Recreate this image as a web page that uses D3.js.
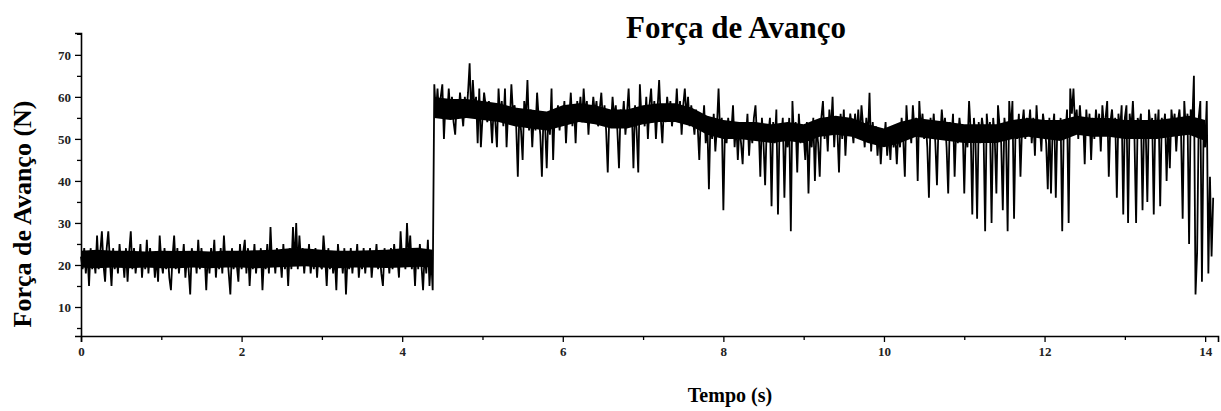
<!DOCTYPE html>
<html>
<head>
<meta charset="utf-8">
<script src="https://cdn.jsdelivr.net/npm/d3@7/dist/d3.min.js"></script>
<style>
  html, body { margin: 0; padding: 0; background: #fff; }
  svg { display: block; }
  text { font-family: "Liberation Serif", "Times New Roman", serif; }
</style>
</head>
<body>
<script>
// ---- Data ----
const titulo = "Força de Avanço";
const rotuloX = "Tempo (s)";
const rotuloY = "Força de Avanço (N)";
const tempoInicial = 0;      // s
const passo = 0.02;          // s between samples
const xTicksMaiores = [0, 2, 4, 6, 8, 10, 12, 14];
const xTicksMenores = [1, 3, 5, 7, 9, 11, 13];
const yTicksMaiores = [10, 20, 30, 40, 50, 60, 70];
const yTicksMenores = [5, 15, 25, 35, 45, 55, 65, 75];

// Força de avanço (N), one value every 0.02 s
const forca = [
  // 0 - 1 s
  22,19,24,18,23,15,24,19,22,18,
  27,19,23,28,20,16,24,28,21,15,
  24,19,23,18,25,20,22,17,24,16,
  23,28,19,24,18,22,20,25,17,23,
  19,26,18,24,20,23,17,22,16,27,
  // 1 - 2 s
  21,18,24,19,23,17,14,22,27,19,
  24,18,23,20,25,17,22,19,13,24,
  20,23,18,26,19,24,20,22,14,23,
  18,24,20,26,17,23,19,24,18,27,
  20,23,18,13,24,19,22,20,16,25,
  // 2 - 3 s
  19,23,26,18,24,15,22,19,25,18,
  23,20,24,14,22,19,25,18,29,20,
  23,18,24,20,22,17,25,19,23,15,
  24,19,29,20,30,19,27,21,24,18,
  23,20,25,18,22,19,24,17,23,20,
  // 3 - 4 s
  19,27,22,15,24,19,23,18,22,14,
  25,20,23,18,24,13,22,19,24,18,
  23,20,25,17,22,19,24,18,23,20,
  24,17,22,20,25,19,23,18,15,24,
  20,23,18,24,19,25,20,22,17,28,
  // 4 - 4.4 s
  21,24,19,30,21,27,19,23,15,24,
  19,25,20,14,23,18,26,15,22,14,
  // 4.4 - 5 s
  63,56,62,55,60,63,50,59,55,62,
  56,60,54,51,59,55,61,57,53,60,
  56,61,68,55,64,57,60,49,62,48,
  // 5 - 6 s
  55,61,58,54,59,56,49,58,54,48,
  62,55,59,53,62,48,57,54,63,56,
  58,53,41,57,52,45,59,55,64,52,
  57,48,56,52,61,55,51,41,56,53,
  43,56,51,62,45,57,53,58,52,57,
  // 6 - 7 s
  54,59,49,57,55,61,53,58,49,59,
  55,60,54,62,56,59,51,58,55,60,
  56,59,53,57,61,54,58,52,42,56,
  53,60,55,58,52,43,57,54,59,51,
  56,62,53,57,43,58,52,42,63,55,
  // 7 - 8 s
  57,53,60,50,58,62,54,59,50,57,
  64,55,49,58,54,60,56,59,53,57,
  55,62,54,59,51,58,62,55,60,53,
  58,55,51,57,53,45,56,52,58,49,
  54,38,55,50,56,47,53,62,51,55,
  // 8 - 9 s
  33,53,49,55,50,52,58,48,54,45,
  53,49,44,54,50,56,46,53,49,55,
  58,50,53,41,55,49,39,53,51,55,
  34,54,49,57,32,53,50,55,36,52,
  48,55,28,59,50,54,42,56,49,53,
  // 9 - 10 s
  51,45,54,37,52,48,55,40,53,49,
  41,55,59,50,54,47,57,52,60,48,
  55,52,42,56,50,57,46,54,51,56,
  53,49,56,51,57,50,58,53,48,55,
  50,61,47,54,49,53,46,52,44,51,
  // 10 - 11 s
  49,54,46,52,45,53,48,51,44,52,
  48,55,50,41,58,51,54,49,58,52,
  55,40,59,52,56,50,54,48,36,55,
  51,56,49,39,54,50,57,52,55,48,
  37,54,50,56,41,53,49,55,51,53,
  // 11 - 12 s
  37,53,48,59,52,32,55,50,31,54,
  49,55,52,28,56,51,54,30,55,50,
  37,58,53,49,33,55,51,28,59,52,
  59,31,54,50,56,41,53,57,50,55,
  52,57,49,55,46,58,51,54,47,56,
  // 12 - 13 s
  53,49,38,55,37,52,56,36,54,50,
  55,28,54,51,57,30,62,56,62,53,
  57,50,58,52,55,44,57,51,56,45,
  55,50,57,52,56,47,58,53,55,59,
  41,54,57,51,55,36,56,52,58,32,
  // 13 - 14 s
  55,58,30,56,52,59,50,30,55,53,
  56,33,54,52,35,57,53,55,32,56,
  51,57,34,55,52,56,40,54,43,57,
  53,56,47,54,57,51,31,59,52,56,
  25,57,54,65,13,23,55,59,16,52,
  // 14 - 14.1 s
  48,59,18,41,22,36
];

// Dense core of the signal (solid black band), read every 0.2 s
const nucleoTempo1 = [0,0.2,0.4,0.6,0.8,1.0,1.2,1.4,1.6,1.8,2.0,2.2,2.4,2.6,2.8,3.0,3.2,3.4,3.6,3.8,4.0,4.2,4.38];
const nucleoInf1   = [19.4,19.2,19.4,19.2,19.4,19.2,19.2,19.4,19.2,19.4,19.4,19.2,19.4,19.6,19.7,19.4,19.2,19.4,19.4,19.3,19.4,19.6,19.4];
const nucleoSup1   = [23.4,23.6,23.4,23.4,23.2,23.4,23.3,23.4,23.2,23.4,23.4,23.5,23.6,24,23.9,23.6,23.4,23.4,23.5,23.6,24,24.1,23.6];
const nucleoTempo2 = [4.4,4.6,4.8,5.0,5.2,5.4,5.6,5.8,6.0,6.2,6.4,6.6,6.8,7.0,7.2,7.4,7.6,7.8,8.0,8.2,8.4,8.6,8.8,9.0,9.2,9.4,9.6,9.8,10.0,10.2,10.4,10.6,10.8,11.0,11.2,11.4,11.6,11.8,12.0,12.2,12.4,12.6,12.8,13.0,13.2,13.4,13.6,13.8,14.0];
const nucleoInf2   = [55,54.5,55,54.5,54,53,52.5,52,53,54,53.5,52.5,52.5,53.5,54,54,53,51,50,50,49.5,49,49.5,49,50.5,51,50.5,49,48,49,50.5,50,49.5,49,49,49,50,50.5,50,49.5,51,50.5,50.5,50,50,50,50.5,51,49.5];
const nucleoSup2   = [60,59.5,59.5,59,58.5,57.5,57,56.5,58,58.5,58,57,57,58,58.5,58.5,57.5,55.5,54.5,54,54,53.5,54,53.5,55,55.5,55,53.5,52.5,54,55,54.5,54,53.5,53.5,53.5,54.5,55,54.5,54.5,55.5,55,55,54.5,54.5,54.5,55,55.5,54.5];

// ---- Chart ----
const W = 1221, H = 411;
const svg = d3.select("body").append("svg").attr("width", W).attr("height", H);

const x = d3.scaleLinear().domain([0, 14.16]).range([81, 1218]);
const y = d3.scaleLinear().domain([3.1, 75.2]).range([336, 33]);

const banda = d3.area().x(d => x(d.t)).y0(d => y(d.lo)).y1(d => y(d.hi));
[[nucleoTempo1, nucleoInf1, nucleoSup1], [nucleoTempo2, nucleoInf2, nucleoSup2]].forEach(([tt, lo, hi]) => {
  svg.append("path")
    .datum(tt.map((t, i) => ({ t, lo: lo[i], hi: hi[i] })))
    .attr("d", banda)
    .attr("fill", "#000");
});

const pontos = forca.map((v, i) => ({ t: tempoInicial + i * passo, f: v }));
const linha = d3.line().x(d => x(d.t)).y(d => y(d.f));
svg.append("path")
  .datum(pontos)
  .attr("d", linha)
  .attr("fill", "none")
  .attr("stroke", "#000")
  .attr("stroke-width", 1.8)
  .attr("stroke-linejoin", "bevel");

// X axis
svg.append("g").attr("transform", `translate(0,${y.range()[0]})`)
  .call(d3.axisBottom(x).tickValues(xTicksMaiores).tickSize(6).tickPadding(5).tickFormat(d3.format("d")));
svg.append("g").attr("transform", `translate(0,${y.range()[0]})`)
  .call(d3.axisBottom(x).tickValues(xTicksMenores).tickSize(4).tickFormat(""))
  .call(g => g.select(".domain").remove());

// Y axis
svg.append("g").attr("transform", `translate(${x.range()[0]},0)`)
  .call(d3.axisLeft(y).tickValues(yTicksMaiores).tickSize(6).tickPadding(4).tickFormat(d3.format("d")));
svg.append("g").attr("transform", `translate(${x.range()[0]},0)`)
  .call(d3.axisLeft(y).tickValues(yTicksMenores).tickSize(4).tickFormat(""))
  .call(g => g.select(".domain").remove());

svg.selectAll(".domain").attr("stroke", "#000").attr("stroke-width", 1.6);
svg.selectAll(".tick line").attr("stroke", "#000").attr("stroke-width", 1.3);
svg.selectAll(".tick text")
  .attr("font-family", "Liberation Serif, serif")
  .attr("font-size", 13)
  .attr("font-weight", "bold")
  .attr("fill", "#222");

// Titles
svg.append("text")
  .attr("x", 736).attr("y", 38)
  .attr("text-anchor", "middle")
  .attr("font-size", 31).attr("font-weight", "bold")
  .attr("fill", "#000")
  .text(titulo);

svg.append("text")
  .attr("x", 730).attr("y", 402)
  .attr("text-anchor", "middle")
  .attr("font-size", 20).attr("font-weight", "bold")
  .attr("fill", "#000")
  .text(rotuloX);

svg.append("text")
  .attr("transform", "translate(31,214) rotate(-90)")
  .attr("text-anchor", "middle")
  .attr("font-size", 26).attr("font-weight", "bold")
  .attr("fill", "#000")
  .text(rotuloY);
</script>
</body>
</html>
